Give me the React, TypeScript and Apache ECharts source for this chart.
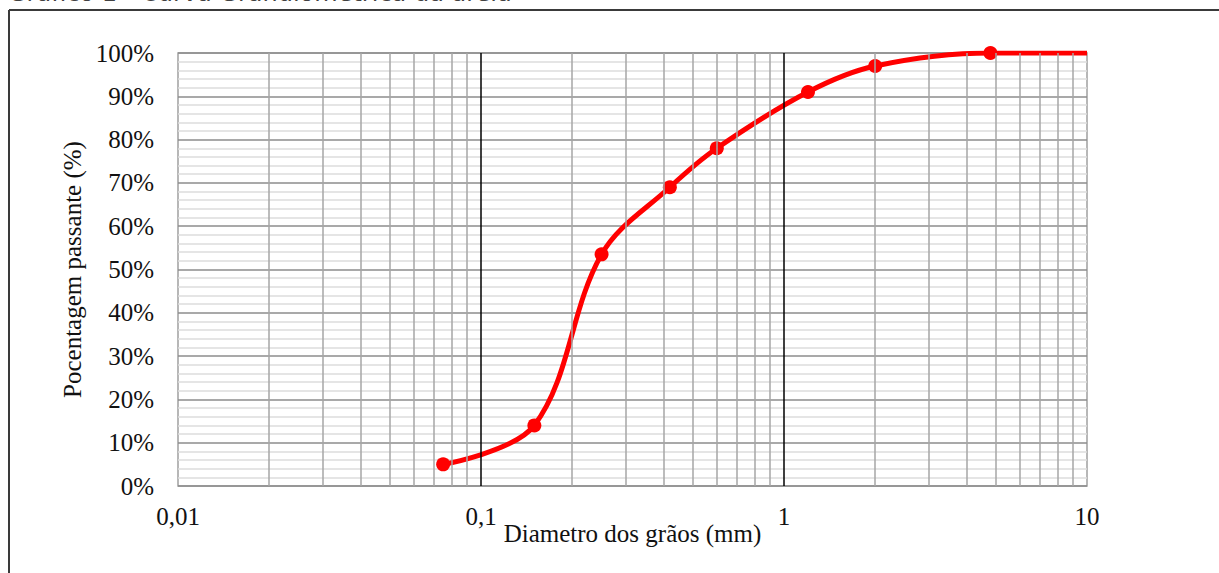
import React, { useEffect, useRef } from "react";
import * as echarts from "echarts";

// Grain-size distribution of the sand sample (sieve openings in mm, fraction passing)
const diameters = [0.075, 0.15, 0.25, 0.42, 0.6, 1.2, 2.0, 4.8, 10];
const passing = [0.05, 0.14, 0.535, 0.69, 0.78, 0.91, 0.97, 1.0, 1.0];
const markedPoints = [true, true, true, true, true, true, true, true, false];

// Log-paper vertical rules
const minorRules = [
  0.02, 0.03, 0.04, 0.05, 0.06, 0.07, 0.08, 0.09,
  0.2, 0.3, 0.4, 0.5, 0.6, 0.7, 0.8, 0.9,
  2, 3, 4, 5, 6, 7, 8, 9,
];
const decadeRules = [0.1, 1];

const xTickLabels: Record<string, string> = {
  "0.01": "0,01",
  "0.1": "0,1",
  "1": "1",
  "10": "10",
};

const titleText = "Gráfico 1 - Curva Granulométrica da areia";
const xName = "Diametro dos grãos (mm)";
const yName = "Pocentagem passante (%)";

const serif = "'Liberation Serif', 'Times New Roman', serif";
const textColor = "#111111";

export default function App() {
  const ref = useRef<HTMLDivElement>(null);

  useEffect(() => {
    if (!ref.current) return;
    const chart = echarts.init(ref.current, undefined, { renderer: "svg" });

    const curve = diameters.map((d, i) => ({
      value: [d, passing[i]],
      symbol: markedPoints[i] ? "circle" : "none",
    }));

    chart.setOption({
      animation: false,
      backgroundColor: "#ffffff",
      grid: {
        left: 178,
        right: 132,
        top: 53,
        bottom: 87,
        show: true,
        borderColor: "#a0a0a0",
        borderWidth: 1.5,
      },
      xAxis: {
        type: "log",
        logBase: 10,
        min: 0.01,
        max: 10,
        name: xName,
        nameLocation: "middle",
        nameGap: 35,
        nameMoveOverlap: false,
        nameTextStyle: { fontFamily: serif, fontSize: 25, color: textColor },
        axisLine: { show: false },
        axisTick: { show: false },
        splitLine: { show: false },
        minorTick: { show: false },
        axisLabel: {
          fontFamily: serif,
          fontSize: 25,
          color: textColor,
          margin: 18,
          formatter: (v: number) => {
            const key = String(Number(v.toPrecision(3)));
            return xTickLabels[key] ?? "";
          },
        },
      },
      yAxis: {
        type: "value",
        min: 0,
        max: 1,
        interval: 0.1,
        name: yName,
        nameLocation: "middle",
        nameGap: 90,
        nameTextStyle: { fontFamily: serif, fontSize: 25, color: textColor },
        axisLine: { show: false },
        axisTick: { show: false },
        axisLabel: {
          fontFamily: serif,
          fontSize: 25,
          color: textColor,
          margin: 24,
          formatter: (v: number) => `${Math.round(v * 100)}%`,
        },
        splitLine: { show: true, lineStyle: { color: "#8c8c8c", width: 1.5 } },
        minorTick: { show: false, splitNumber: 5 },
        minorSplitLine: { show: true, lineStyle: { color: "#dcdcdc", width: 1.5 } },
      },
      series: [
        {
          type: "line",
          data: [],
          z: 1,
          silent: true,
          markLine: {
            silent: true,
            symbol: "none",
            label: { show: false },
            animation: false,
            data: [
              ...minorRules.map((v) => ({
                xAxis: v,
                lineStyle: { color: "#a6a6a6", width: 1.5, type: "solid" },
              })),
              ...decadeRules.map((v) => ({
                xAxis: v,
                lineStyle: { color: "#000000", width: 1.5, type: "solid" },
              })),
            ],
          },
        },
        {
          type: "line",
          z: 3,
          data: curve,
          smooth: 0.35,
          symbolSize: 14,
          lineStyle: { color: "#ff0000", width: 5 },
          itemStyle: { color: "#ff0000" },
        },
      ],
      graphic: [
        {
          type: "text",
          left: 8,
          top: -19,
          silent: true,
          style: {
            text: titleText,
            font: "24px 'DejaVu Sans', sans-serif",
            fill: "#404040",
          },
        },
        {
          type: "line",
          silent: true,
          shape: { x1: 9, y1: 10, x2: 1219, y2: 10 },
          style: { stroke: "#3a3a3a", lineWidth: 2 },
        },
        {
          type: "line",
          silent: true,
          shape: { x1: 9, y1: 10, x2: 9, y2: 573 },
          style: { stroke: "#3a3a3a", lineWidth: 2 },
        },
      ],
    });

    return () => chart.dispose();
  }, []);

  return (
    <div
      ref={ref}
      style={{ position: "fixed", left: 0, top: 0, width: 1219, height: 573 }}
    />
  );
}
